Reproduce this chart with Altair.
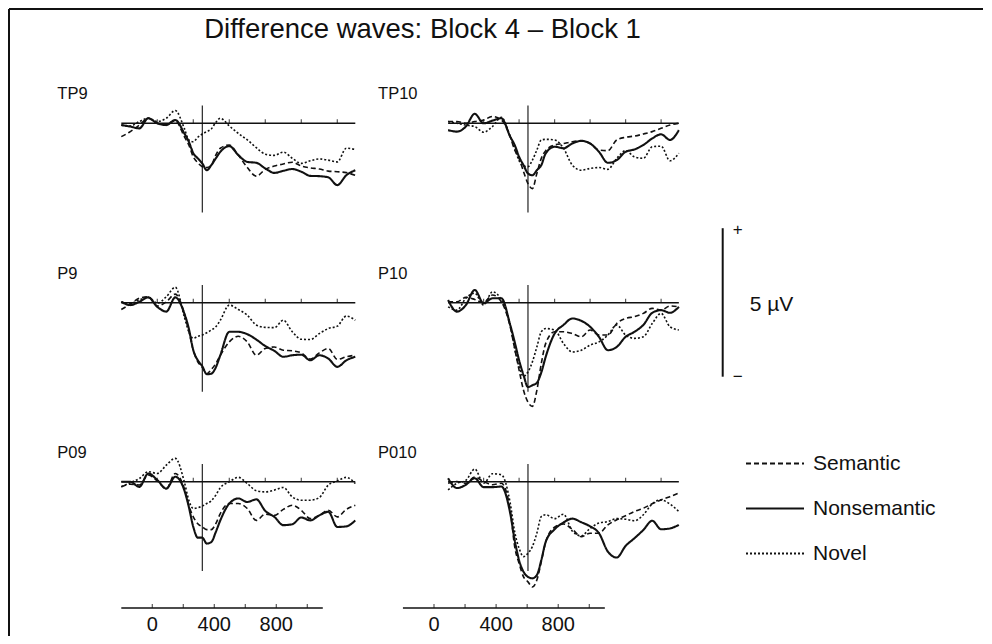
import altair as alt
import pandas as pd

FONT = "Liberation Sans"
INK = "#111111"

# ---------------- data (µV) ----------------
TIME_MS = [-200, -150, -100, -50, 0, 50, 100, 150, 175, 200, 225, 250, 275, 300, 325, 350,
           400, 450, 500, 550, 600, 650, 700, 750, 800, 850, 900, 950, 1000, 1050, 1100]
CONDITIONS = ["Semantic", "Nonsemantic", "Novel"]

TP9_SEMANTIC = [-0.45, -0.28, -0.06, 0.17, 0.00, -0.02, 0.09, -0.45, -0.73, -1.13, -1.33, -1.46, -1.49, -1.41, -1.07, -0.84,
                -0.73, -1.07, -1.49, -1.78, -1.55, -1.44, -1.37, -1.31, -1.44, -1.50, -1.54, -1.61, -1.63, -1.66, -1.75]
TP9_NONSEMANTIC = [-0.06, -0.11, -0.17, 0.17, 0.00, -0.06, 0.11, -0.34, -0.62, -1.01, -1.18, -1.35, -1.58, -1.41, -1.18, -0.96,
                   -0.77, -1.07, -1.30, -1.33, -1.52, -1.67, -1.60, -1.54, -1.63, -1.77, -1.78, -1.82, -2.08, -1.75, -1.58]
TP9_NOVEL = [-0.06, -0.09, 0.06, 0.17, 0.06, 0.17, 0.43, -0.17, -0.56, -0.62, -0.47, -0.36, -0.28, -0.19, 0.03, 0.17,
             -0.09, -0.34, -0.56, -0.82, -1.04, -1.08, -0.97, -1.18, -1.35, -1.26, -1.20, -1.24, -1.30, -0.84, -0.88]

TP10_SEMANTIC = [0.06, 0.06, 0.00, 0.06, 0.11, 0.23, 0.11, -0.45, -0.90, -1.18, -1.63, -2.03, -2.20, -1.69, -1.18, -0.92,
                 -0.73, -0.68, -0.62, -0.59, -0.68, -0.90, -0.92, -0.56, -0.47, -0.43, -0.36, -0.28, -0.17, -0.06, 0.00]
TP10_NONSEMANTIC = [-0.23, -0.28, -0.11, 0.32, 0.00, 0.09, 0.17, -0.45, -0.73, -1.13, -1.41, -1.69, -1.75, -1.58, -1.41, -1.01,
                    -0.79, -0.84, -0.68, -0.59, -0.68, -0.96, -1.33, -1.24, -0.96, -0.88, -0.73, -0.51, -0.37, -0.56, -0.23]
TP10_NOVEL = [0.06, 0.00, -0.06, -0.11, -0.30, -0.11, 0.20, -0.45, -0.84, -1.26, -1.44, -1.46, -1.24, -0.90, -0.56, -0.54,
              -0.56, -0.84, -1.41, -1.58, -1.52, -1.49, -1.55, -1.18, -0.92, -1.13, -1.18, -0.79, -0.77, -1.26, -1.01]

P9_SEMANTIC = [-0.23, -0.05, 0.15, 0.20, -0.11, 0.03, 0.29, -0.36, -0.95, -1.60, -1.99, -2.18, -2.39, -2.25, -2.05, -1.77,
               -1.32, -1.13, -1.32, -1.77, -1.54, -1.49, -1.60, -1.62, -1.69, -1.90, -1.69, -1.54, -1.91, -1.82, -1.77]
P9_NONSEMANTIC = [0.03, -0.08, 0.03, 0.18, -0.14, -0.30, 0.18, -0.36, -0.87, -1.60, -1.94, -2.14, -2.41, -2.39, -2.18, -1.77,
                  -0.98, -0.98, -1.06, -1.24, -1.46, -1.62, -1.82, -1.77, -1.75, -1.94, -1.77, -1.88, -2.16, -1.94, -1.82]
P9_NOVEL = [0.03, -0.02, 0.09, 0.18, -0.02, 0.20, 0.52, -0.47, -0.98, -1.20, -1.13, -1.09, -1.01, -0.92, -0.81, -0.59,
            -0.08, -0.23, -0.42, -0.75, -0.83, -0.84, -0.59, -0.98, -1.23, -1.24, -1.04, -0.87, -0.79, -0.45, -0.59]

P10_SEMANTIC = [0.03, 0.03, 0.18, 0.11, 0.00, 0.26, 0.03, -0.81, -1.54, -2.27, -2.95, -3.35, -3.49, -2.95, -2.05, -1.37,
                -0.98, -0.98, -1.04, -1.15, -0.92, -1.09, -1.09, -0.70, -0.53, -0.47, -0.36, -0.19, -0.25, -0.11, -0.14]
P10_NONSEMANTIC = [0.09, -0.30, -0.08, 0.43, -0.02, 0.15, 0.15, -0.75, -1.32, -1.94, -2.44, -2.84, -2.78, -2.70, -2.35, -1.82,
                   -1.04, -0.75, -0.53, -0.61, -0.81, -1.15, -1.60, -1.49, -1.15, -0.98, -0.75, -0.34, -0.25, -0.34, -0.14]
P10_NOVEL = [-0.14, -0.25, 0.15, 0.32, -0.08, 0.37, 0.09, -0.75, -1.54, -2.16, -2.48, -2.33, -1.99, -1.49, -0.98, -0.87,
             -0.92, -1.37, -1.66, -1.60, -1.43, -1.32, -1.09, -0.75, -1.09, -1.20, -1.15, -0.70, -0.36, -0.81, -0.92]

P09_SEMANTIC = [-0.17, -0.08, -0.11, 0.23, 0.03, -0.23, 0.28, -0.23, -0.79, -1.18, -1.41, -1.52, -1.61, -1.61, -1.41, -1.07,
                -0.73, -0.73, -0.90, -1.30, -1.09, -1.13, -0.93, -0.79, -0.96, -1.24, -1.13, -0.96, -1.18, -0.93, -0.79]
P09_NONSEMANTIC = [0.00, 0.00, -0.17, 0.28, 0.06, -0.23, 0.17, -0.28, -0.84, -1.52, -1.88, -1.88, -2.08, -2.03, -1.69, -1.30,
                   -0.73, -0.56, -0.68, -0.59, -0.98, -1.18, -1.46, -1.43, -1.20, -1.30, -1.13, -1.01, -1.52, -1.50, -1.30]
P09_NOVEL = [-0.17, -0.03, 0.11, 0.34, 0.28, 0.56, 0.79, 0.00, -0.62, -0.90, -0.87, -0.82, -0.73, -0.64, -0.45, -0.20,
             0.00, 0.15, -0.06, -0.30, -0.34, -0.28, -0.19, -0.51, -0.62, -0.62, -0.53, -0.11, 0.03, 0.15, -0.06]

P010_SEMANTIC = [-0.05, 0.01, -0.05, 0.16, 0.01, -0.10, -0.05, -0.95, -2.18, -2.75, -3.20, -3.37, -3.54, -3.31, -2.69, -2.02,
                 -1.53, -1.42, -1.60, -1.85, -1.73, -1.73, -1.45, -1.28, -1.14, -1.00, -0.89, -0.74, -0.61, -0.50, -0.38]
P010_NONSEMANTIC = [0.12, -0.21, -0.10, 0.12, -0.18, -0.18, -0.16, -1.06, -1.96, -2.64, -3.03, -3.20, -3.25, -3.14, -2.64, -2.02,
                    -1.60, -1.37, -1.24, -1.36, -1.50, -1.73, -2.35, -2.55, -2.16, -1.90, -1.62, -1.31, -1.60, -1.57, -1.45]
P010_NOVEL = [-0.27, -0.05, 0.05, 0.43, -0.05, 0.27, 0.24, -0.72, -1.68, -2.24, -2.52, -2.41, -2.18, -1.73, -1.17, -1.11,
              -1.24, -1.09, -1.66, -1.82, -1.57, -1.39, -1.34, -1.24, -1.26, -1.31, -1.11, -0.74, -0.61, -0.75, -1.00]

# (label, semantic, nonsemantic, novel, column, row)
PANELS = [
    ("TP9", TP9_SEMANTIC, TP9_NONSEMANTIC, TP9_NOVEL, 0, 0),
    ("TP10", TP10_SEMANTIC, TP10_NONSEMANTIC, TP10_NOVEL, 1, 0),
    ("P9", P9_SEMANTIC, P9_NONSEMANTIC, P9_NOVEL, 0, 1),
    ("P10", P10_SEMANTIC, P10_NONSEMANTIC, P10_NOVEL, 1, 1),
    ("P09", P09_SEMANTIC, P09_NONSEMANTIC, P09_NOVEL, 0, 2),
    ("P010", P010_SEMANTIC, P010_NONSEMANTIC, P010_NOVEL, 1, 2),
]

BASELINE_MS = [-200, 1100]
BASE_TICKS_MS = [0, 200, 400, 600, 800, 1000]
MARKER_MS = 250
MARKER_UV = [-3.0, 0.6]
AXIS_TICKS_MS = [0, 200, 400, 600, 800, 1000]
AXIS_LABELS_MS = [0, 400, 800]
SCALE_BAR_UV = 5
TITLE = "Difference waves: Block 4 \u2013 Block 1"

# ---------------- styles / layout (page pixels) ----------------
DASHES = [[5, 3], [1, 0], [2, 2]]
VIEW_X0, VIEW_Y0, VIEW_W, VIEW_H = 9, 9, 974, 627
COL_ZERO_X = [157.3, 483.6]
COL_PX_PER_MS = [0.180, 0.1775]
ROW_ZERO_Y = [123.3, 302.7, 481.8]
PX_PER_UV = 29.7
AXIS_ZERO_X = [152.3, 434.0]
AXIS_PX_PER_MS = [0.155, 0.1553]
AXIS_Y = 608
SCALEBAR_X, SCALEBAR_BOTTOM_Y = 722.7, 376.7
LABEL_DX = [-64, -70]
TITLE_CENTER = [422.5, 30]


def x_scale(zero_px, px_per_unit):
    return alt.Scale(domain=[(VIEW_X0 - zero_px) / px_per_unit,
                             (VIEW_X0 + VIEW_W - zero_px) / px_per_unit],
                     nice=False, zero=False)


def y_scale(zero_px, px_per_unit):
    return alt.Scale(domain=[(zero_px - (VIEW_Y0 + VIEW_H)) / px_per_unit,
                             (zero_px - VIEW_Y0) / px_per_unit],
                     nice=False, zero=False)


LEGEND = alt.Legend(title=None, orient="none", legendX=736, legendY=432,
                    symbolType="stroke", symbolSize=3364, symbolStrokeColor=INK,
                    symbolStrokeWidth=1.8, labelFontSize=21, labelFont=FONT,
                    labelColor=INK, labelOffset=8, padding=0, rowPadding=0,
                    clipHeight=45)


def panel(name, sem, non, nov, col, row):
    xs = x_scale(COL_ZERO_X[col], COL_PX_PER_MS[col])
    ys = y_scale(ROW_ZERO_Y[row], PX_PER_UV)
    X = lambda f: alt.X(f, scale=xs, axis=None)
    Y = lambda f: alt.Y(f, scale=ys, axis=None)

    traces = pd.DataFrame({
        "ms": TIME_MS * 3,
        "uv": sem + non + nov,
        "condition": [c for c in CONDITIONS for _ in TIME_MS],
    })
    base = alt.Chart(pd.DataFrame({"ms": [BASELINE_MS[0]], "ms_end": [BASELINE_MS[1]], "uv": [0]})) \
        .mark_rule(color=INK, strokeWidth=1.6).encode(x=X("ms:Q"), x2="ms_end:Q", y=Y("uv:Q"))
    ticks = alt.Chart(pd.DataFrame({"ms": BASE_TICKS_MS, "uv": [0] * len(BASE_TICKS_MS)})) \
        .mark_tick(orient="vertical", size=4, thickness=1.2, color=INK, yOffset=-2) \
        .encode(x=X("ms:Q"), y=Y("uv:Q"))
    marker = alt.Chart(pd.DataFrame({"ms": [MARKER_MS], "uv": [MARKER_UV[0]], "uv_end": [MARKER_UV[1]]})) \
        .mark_rule(color=INK, strokeWidth=1.1).encode(x=X("ms:Q"), y=Y("uv:Q"), y2="uv_end:Q")
    lines = alt.Chart(traces).mark_line(color=INK, interpolate="monotone").encode(
        x=X("ms:Q"), y=Y("uv:Q"),
        strokeDash=alt.StrokeDash("condition:N", scale=alt.Scale(domain=CONDITIONS, range=DASHES), legend=LEGEND),
        strokeWidth=alt.condition(alt.datum.condition == "Nonsemantic", alt.value(2.1), alt.value(1.6)),
        order="ms:Q",
    )
    label = alt.Chart(pd.DataFrame({"ms": [BASELINE_MS[0]], "uv": [0], "name": [name]})) \
        .mark_text(align="left", baseline="middle", dx=LABEL_DX[col], dy=-29, fontSize=16.5, color=INK) \
        .encode(x=X("ms:Q"), y=Y("uv:Q"), text="name:N")
    return alt.layer(base, marker, ticks, lines, label)


def time_axis(col):
    xs = x_scale(AXIS_ZERO_X[col], AXIS_PX_PER_MS[col])
    ys = y_scale(AXIS_Y, 1.0)
    X = lambda f: alt.X(f, scale=xs, axis=None)
    Y = lambda f: alt.Y(f, scale=ys, axis=None)
    line = alt.Chart(pd.DataFrame({"ms": [BASELINE_MS[0]], "ms_end": [BASELINE_MS[1]], "v": [0]})) \
        .mark_rule(color=INK, strokeWidth=1.6).encode(x=X("ms:Q"), x2="ms_end:Q", y=Y("v:Q"))
    ticks = alt.Chart(pd.DataFrame({"ms": AXIS_TICKS_MS, "v": [0] * len(AXIS_TICKS_MS)})) \
        .mark_tick(orient="vertical", size=4, thickness=1.2, color=INK, yOffset=-2) \
        .encode(x=X("ms:Q"), y=Y("v:Q"))
    labels = alt.Chart(pd.DataFrame({"ms": AXIS_LABELS_MS, "v": [0] * len(AXIS_LABELS_MS)})) \
        .mark_text(align="center", baseline="middle", dy=17, fontSize=20, color=INK) \
        .encode(x=X("ms:Q"), y=Y("v:Q"), text=alt.Text("ms:Q", format="d"))
    return alt.layer(line, ticks, labels)


def scale_bar():
    xs = x_scale(SCALEBAR_X, 1.0)
    ys = y_scale(SCALEBAR_BOTTOM_Y, PX_PER_UV)
    X = lambda f: alt.X(f, scale=xs, axis=None)
    Y = lambda f: alt.Y(f, scale=ys, axis=None)
    bar = alt.Chart(pd.DataFrame({"x": [0], "uv": [0], "uv_end": [SCALE_BAR_UV]})) \
        .mark_rule(color=INK, strokeWidth=2).encode(x=X("x:Q"), y=Y("uv:Q"), y2="uv_end:Q")
    plus = alt.Chart(pd.DataFrame({"x": [0], "uv": [SCALE_BAR_UV], "t": ["+"]})) \
        .mark_text(align="center", baseline="middle", dx=15, dy=2, fontSize=17, color=INK) \
        .encode(x=X("x:Q"), y=Y("uv:Q"), text="t:N")
    minus = alt.Chart(pd.DataFrame({"x": [0], "uv": [0], "t": ["\u2212"]})) \
        .mark_text(align="center", baseline="middle", dx=15, dy=0, fontSize=17, color=INK) \
        .encode(x=X("x:Q"), y=Y("uv:Q"), text="t:N")
    unit = alt.Chart(pd.DataFrame({"x": [0], "uv": [SCALE_BAR_UV / 2], "t": ["%d \u00b5V" % SCALE_BAR_UV]})) \
        .mark_text(align="left", baseline="middle", dx=27, dy=3, fontSize=21, color=INK) \
        .encode(x=X("x:Q"), y=Y("uv:Q"), text="t:N")
    return alt.layer(bar, plus, minus, unit)


def frame_and_title():
    # frame drawn in page-pixel units relative to the view origin
    xs = x_scale(VIEW_X0, 1.0)
    ys = y_scale(VIEW_Y0, -1.0)
    X = lambda f: alt.X(f, scale=xs, axis=None)
    Y = lambda f: alt.Y(f, scale=ys, axis=None)
    top = alt.Chart(pd.DataFrame({"x": [0], "x2": [VIEW_W], "y": [0]})) \
        .mark_rule(color=INK, strokeWidth=2).encode(x=X("x:Q"), x2="x2:Q", y=Y("y:Q"))
    left = alt.Chart(pd.DataFrame({"x": [0], "y": [0], "y2": [VIEW_H]})) \
        .mark_rule(color=INK, strokeWidth=2).encode(x=X("x:Q"), y=Y("y:Q"), y2="y2:Q")
    title = alt.Chart(pd.DataFrame({"x": [TITLE_CENTER[0] - VIEW_X0], "y": [TITLE_CENTER[1] - VIEW_Y0], "t": [TITLE]})) \
        .mark_text(align="center", baseline="middle", fontSize=27.5, color=INK) \
        .encode(x=X("x:Q"), y=Y("y:Q"), text="t:N")
    return alt.layer(top, left, title)


layers = [frame_and_title()] + [panel(*p) for p in PANELS] + [time_axis(0), time_axis(1), scale_bar()]

chart = alt.layer(*layers).resolve_scale(x="independent", y="independent").properties(
    width=VIEW_W, height=VIEW_H,
    padding={"left": VIEW_X0 - 8, "top": VIEW_Y0 - 8, "right": 0, "bottom": 0},
    autosize=alt.AutoSizeParams(type="none"),
).configure_view(strokeWidth=0, stroke="transparent").configure_text(font=FONT)

chart.save("out.html", embed_options={"renderer": "svg", "actions": False})
